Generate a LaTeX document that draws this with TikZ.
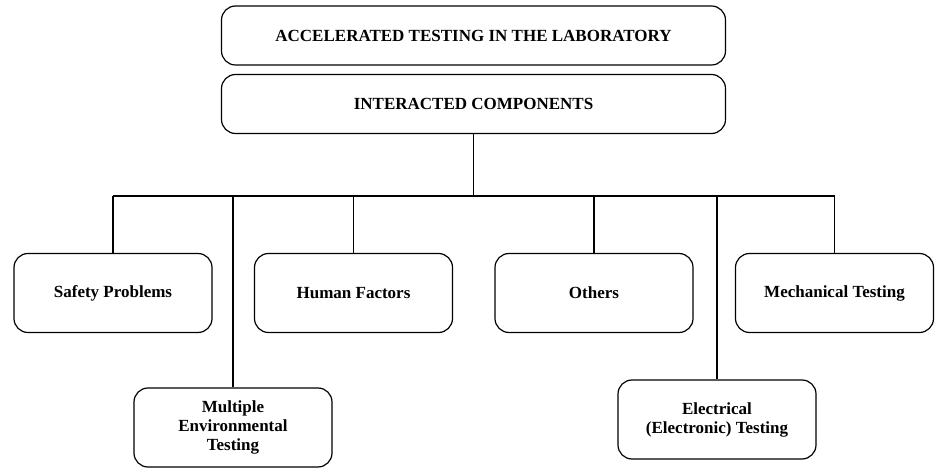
\documentclass[tikz,border=0pt]{standalone}
\usepackage{fontspec}
\setmainfont{Liberation Serif}
\begin{document}
\begin{tikzpicture}[x=1pt,y=-1pt,
  box/.style={draw, line width=1.2pt, rounded corners=14pt, rectangle,
    align=center, inner sep=0pt, font=\bfseries\fontsize{17}{19}\selectfont,
    minimum width=198pt, minimum height=79pt},
  wide/.style={box, minimum width=504pt, minimum height=59pt},
  link/.style={line width=1.2pt}]
\useasboundingbox (0,0) rectangle (940,470);

% header boxes
\node[wide] (title) at (473.5,35.5) {ACCELERATED TESTING IN THE LABORATORY};
\node[wide] (comp) at (473.5,104) {INTERACTED COMPONENTS};

% component boxes, upper row
\node[box] (safety) at (113,293) {Safety Problems};
\node[box] (human) at (353.5,293) {Human Factors};
\node[box] (others) at (594,293) {Others};
\node[box] (mech) at (834.5,293) {Mechanical Testing};

% component boxes, lower row
\node[box] (multenv) at (233,427.5) {Multiple\\Environmental\\Testing};
\node[box] (elec) at (717,419.5) {Electrical\\(Electronic) Testing};

% distribution bus
\coordinate (busL) at (113,196);
\coordinate (busR) at (834.5,196);
\draw[link] (busL) -- (busR);
\draw[link] (comp.south) -- (comp.south |- busL);
\foreach \n in {safety,multenv,human,others,elec,mech}
  \draw[link] (\n.north) -- (\n.north |- busL);
\end{tikzpicture}
\end{document}
